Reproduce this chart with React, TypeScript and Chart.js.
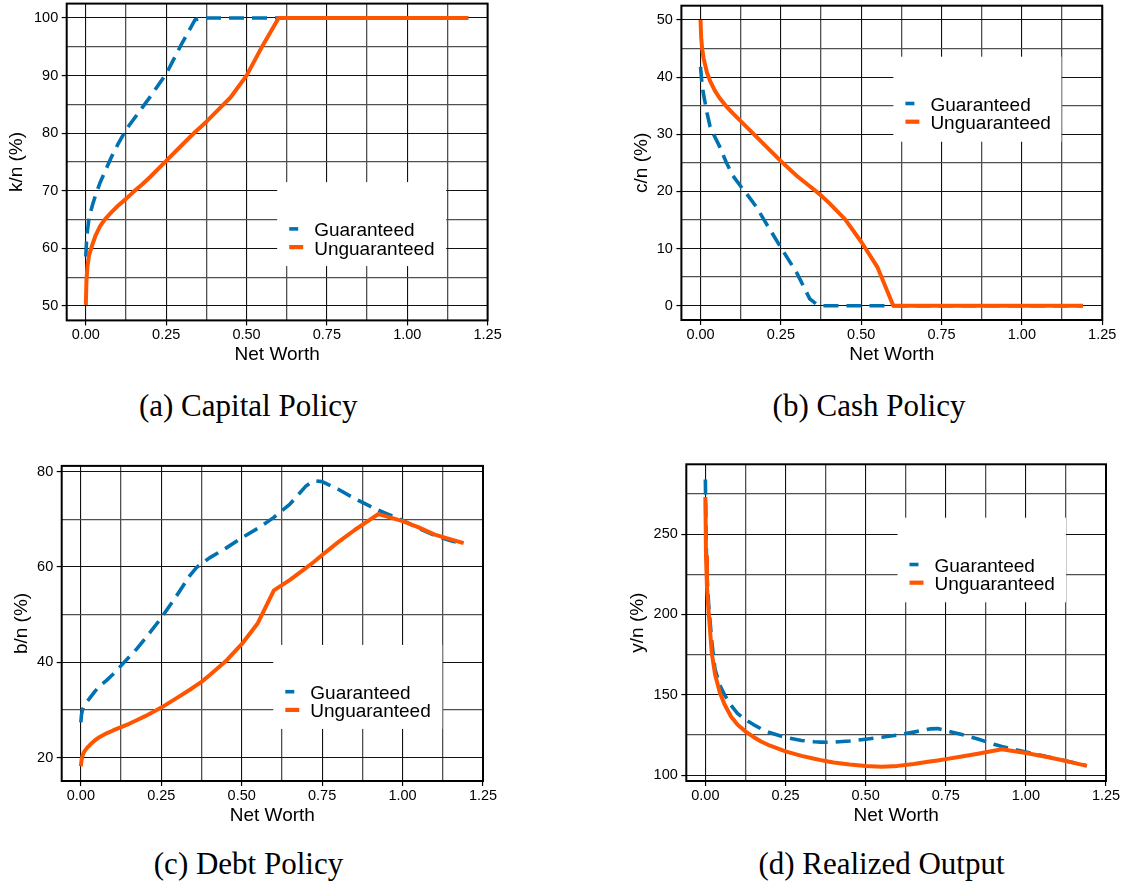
import React, { useEffect, useRef } from 'react';
import { Chart, registerables } from 'chart.js';

Chart.register(...registerables);

// ---------------- data ----------------
const netWorth = [0, 0.002, 0.005, 0.01, 0.02, 0.03, 0.045, 0.06, 0.08, 0.1, 0.125, 0.15, 0.175, 0.2, 0.25, 0.3, 0.34, 0.36, 0.375, 0.4, 0.45, 0.5, 0.55, 0.6, 0.65, 0.7, 0.725, 0.75, 0.8, 0.85, 0.9, 0.925, 0.95, 1.0, 1.05, 1.1, 1.15, 1.19];

const capitalGuaranteed = [58.6, 61.0, 63.0, 65.3, 67.4, 69.2, 71.5, 73.4, 75.9, 78.1, 80.6, 82.5, 84.4, 86.3, 90.3, 95.7, 99.7, 100, 100, 100, 100, 100, 100, 100, 100, 100, 100, 100, 100, 100, 100, 100, 100, 100, 100, 100, 100, 100];
const capitalUnguaranteed = [50.2, 54.5, 56.8, 58.8, 60.6, 62.2, 63.9, 65.1, 66.3, 67.4, 68.6, 69.9, 71.1, 72.4, 75.2, 78.0, 80.2, 81.2, 82.0, 83.4, 86.2, 90.0, 95.2, 100, 100, 100, 100, 100, 100, 100, 100, 100, 100, 100, 100, 100, 100, 100];

const cashGuaranteed = [41.8, 40.5, 38.5, 36.8, 33.8, 31.3, 29.5, 27.8, 25.1, 22.8, 20.9, 19.1, 17.2, 14.8, 10.2, 5.7, 1.2, 0.3, 0, 0, 0, 0, 0, 0, 0, 0, 0, 0, 0, 0, 0, 0, 0, 0, 0, 0, 0, 0];
const cashUnguaranteed = [50, 47, 45, 43.2, 40.8, 39.3, 37.6, 36.3, 34.9, 33.7, 32.3, 30.9, 29.5, 28.1, 25.3, 22.7, 20.9, 20.0, 19.3, 18.0, 15.1, 11.2, 6.8, 0, 0, 0, 0, 0, 0, 0, 0, 0, 0, 0, 0, 0, 0, 0];

const debtGuaranteed = [27.4, 29.0, 30.0, 30.8, 31.8, 32.7, 34.0, 35.1, 36.2, 37.5, 39.3, 41.1, 42.9, 45.0, 49.3, 54.2, 58.3, 59.9, 60.7, 61.9, 63.9, 66.1, 68.1, 70.4, 73.2, 77.0, 78.1, 77.9, 76.3, 74.4, 72.7, 71.9, 71.2, 69.8, 68.1, 66.6, 65.5, 64.8];
const debtUnguaranteed = [18.2, 19.4, 20.4, 21.2, 22.1, 22.8, 23.7, 24.4, 25.1, 25.7, 26.4, 27.1, 27.9, 28.7, 30.5, 32.6, 34.3, 35.2, 35.9, 37.3, 40.2, 43.8, 48.2, 55.1, 57.3, 59.8, 61.1, 62.5, 65.2, 67.7, 70.0, 71.1, 70.6, 69.6, 68.3, 66.8, 65.8, 65.0];

const outputGuaranteed = [284, 250, 225, 207, 183, 166, 156, 150, 143.5, 138.5, 134.5, 131.5, 128.8, 126.6, 123.5, 121.6, 120.8, 120.6, 120.5, 120.6, 121.3, 122.4, 123.6, 125.0, 126.8, 128.8, 129.0, 127.8, 125.3, 122.5, 119.3, 117.8, 116.6, 114.5, 112.3, 110.0, 107.8, 105.9];
const outputUnguaranteed = [273, 236, 217, 202, 176, 163, 151.5, 144, 136.5, 131.5, 127.2, 123.8, 120.8, 118.5, 114.8, 112.0, 110.2, 109.4, 108.8, 107.9, 106.6, 105.7, 105.3, 105.8, 107.0, 108.5, 109.2, 110.0, 111.6, 113.3, 115.2, 116.2, 115.4, 113.8, 112.0, 109.9, 107.7, 105.8];

const xMajorTicks = [0, 0.25, 0.5, 0.75, 1.0, 1.25];
const xMinorTicks = [0.125, 0.375, 0.625, 0.875, 1.125];
const capitalMajorTicks = [50, 60, 70, 80, 90, 100];
const capitalMinorTicks = [55, 65, 75, 85, 95];
const cashMajorTicks = [0, 10, 20, 30, 40, 50];
const cashMinorTicks = [5, 15, 25, 35, 45];
const debtMajorTicks = [20, 40, 60, 80];
const debtMinorTicks = [30, 50, 70];
const outputMajorTicks = [100, 150, 200, 250];
const outputMinorTicks = [125, 175, 225, 275];

const seriesLabels = ['Guaranteed', 'Unguaranteed'];
const xTitle = 'Net Worth';

// ---------------- styles ----------------
const BLUE = '#0072B2';
const ORANGE = '#FF5500';
const SANS = '"Liberation Sans", Arial, Helvetica, sans-serif';
const SERIF = '"Liberation Serif", "Times New Roman", serif';
const TICK_SIZE = 14.5;
const TITLE_SIZE = 19;
const X_MIN = -0.0595;
const X_MAX = 1.25;

type Spec = {
  canvas: { left: number; top: number; width: number; height: number };
  area: { left: number; top: number; right: number; bottom: number };
  yTitleX: number;
  xTitleY: number;
  yTitle: string;
  yMin: number;
  yMax: number;
  yMajor: number[];
  yMinor: number[];
  guaranteed: number[];
  unguaranteed: number[];
  legend: { dx: number; dy: number; w: number; h: number };
  caption: string;
  captionX: number;
  captionBaseline: number;
};

const panels: Spec[] = [
  {
    canvas: { left: 0, top: 0, width: 530, height: 380 },
    area: { left: 66.7, top: 3.6, right: 487.6, bottom: 320.4 },
    yTitleX: 17, xTitleY: 355,
    yTitle: 'k/n (%)', yMin: 47.5, yMax: 102.5,
    yMajor: capitalMajorTicks, yMinor: capitalMinorTicks,
    guaranteed: capitalGuaranteed, unguaranteed: capitalUnguaranteed,
    legend: { dx: 210.5, dy: 178.5, w: 169, h: 84 },
    caption: '(a) Capital Policy', captionX: 248.3, captionBaseline: 416.5,
  },
  {
    canvas: { left: 600, top: 0, width: 523, height: 380 },
    area: { left: 681.4, top: 5.7, right: 1102.2, bottom: 320 },
    yTitleX: 642, xTitleY: 355,
    yTitle: 'c/n (%)', yMin: -2.5, yMax: 52.5,
    yMajor: cashMajorTicks, yMinor: cashMinorTicks,
    guaranteed: cashGuaranteed, unguaranteed: cashUnguaranteed,
    legend: { dx: 212, dy: 51, w: 168, h: 85 },
    caption: '(b) Cash Policy', captionX: 869, captionBaseline: 416.5,
  },
  {
    canvas: { left: 0, top: 440, width: 530, height: 400 },
    area: { left: 61.7, top: 465.9, right: 483, bottom: 781 },
    yTitleX: 21.7, xTitleY: 815.6,
    yTitle: 'b/n (%)', yMin: 15.1, yMax: 81.2,
    yMajor: debtMajorTicks, yMinor: debtMinorTicks,
    guaranteed: debtGuaranteed, unguaranteed: debtUnguaranteed,
    legend: { dx: 211.6, dy: 179, w: 169, h: 84 },
    caption: '(c) Debt Policy', captionX: 248.5, captionBaseline: 874.5,
  },
  {
    canvas: { left: 600, top: 440, width: 523, height: 400 },
    area: { left: 686.3, top: 464.3, right: 1106, bottom: 781 },
    yTitleX: 638, xTitleY: 815.6,
    yTitle: 'y/n (%)', yMin: 96.4, yMax: 293.4,
    yMajor: outputMajorTicks, yMinor: outputMinorTicks,
    guaranteed: outputGuaranteed, unguaranteed: outputUnguaranteed,
    legend: { dx: 211.2, dy: 53.4, w: 168.5, h: 84.6 },
    caption: '(d) Realized Output', captionX: 881.5, captionBaseline: 874.5,
  },
];

const near = (list: number[], v: number) => list.some((t) => Math.abs(t - v) < 1e-9);

function makeFramePlugin(spec: Spec) {
  return {
    id: 'frameLegend',
    afterDraw(chart: any) {
      const { ctx, chartArea } = chart;
      const bx = chartArea.left + spec.legend.dx;
      const by = chartArea.top + spec.legend.dy;
      ctx.save();
      ctx.fillStyle = '#ffffff';
      ctx.fillRect(bx, by, spec.legend.w, spec.legend.h);
      const items = [
        { label: seriesLabels[0], color: BLUE, width: 3.6, len: 9 },
        { label: seriesLabels[1], color: ORANGE, width: 4.2, len: 14 },
      ];
      items.forEach((it, i) => {
        const base = by + 54.3 + i * 18.2;
        ctx.strokeStyle = it.color;
        ctx.lineWidth = it.width;
        ctx.lineCap = 'butt';
        ctx.beginPath();
        ctx.moveTo(bx + 12, base - 7.5);
        ctx.lineTo(bx + 12 + it.len, base - 7.5);
        ctx.stroke();
        ctx.fillStyle = '#000';
        ctx.font = `${TITLE_SIZE}px ${SANS}`;
        ctx.textBaseline = 'alphabetic';
        ctx.textAlign = 'left';
        ctx.fillText(it.label, bx + 37, base);
      });
      ctx.strokeStyle = '#000';
      ctx.lineWidth = 2;
      ctx.strokeRect(chartArea.left, chartArea.top, chartArea.right - chartArea.left, chartArea.bottom - chartArea.top);
      ctx.restore();
    },
  };
}

function Panel({ spec }: { spec: Spec }) {
  const ref = useRef<HTMLCanvasElement>(null);
  useEffect(() => {
    if (!ref.current) return;
    const c = spec.canvas;
    const a = spec.area;
    const half = (TITLE_SIZE * 1.2) / 2;
    const padLeft = spec.yTitleX - c.left - half;
    const yWidth = a.left - c.left - padLeft;
    const padTop = a.top - c.top;
    const padRight = c.left + c.width - a.right;
    const xHeight = spec.xTitleY + half - a.bottom;
    const padBottom = c.top + c.height - (spec.xTitleY + half);

    const xAll = [...xMajorTicks, ...xMinorTicks].sort((p, q) => p - q);
    const yAll = [...spec.yMajor, ...spec.yMinor].sort((p, q) => p - q);

    const gridFor = (major: number[]) => ({
      color: (ctx: any) => (ctx.tick && near(major, ctx.tick.value) ? '#111111' : '#505050'),
      lineWidth: (ctx: any) => (ctx.tick && near(major, ctx.tick.value) ? 1.1 : 1.3),
      tickLength: 5,
      tickWidth: 1.2,
      tickColor: (ctx: any) => (ctx.tick && near(major, ctx.tick.value) ? '#000' : 'rgba(0,0,0,0)'),
      drawTicks: true,
      drawOnChartArea: true,
    });

    const chart = new Chart(ref.current, {
      type: 'line',
      data: {
        datasets: [
          {
            label: seriesLabels[1],
            data: netWorth.map((x, i) => ({ x, y: spec.unguaranteed[i] })),
            borderColor: ORANGE,
            backgroundColor: ORANGE,
            borderWidth: 4,
            pointRadius: 0,
            tension: 0,
            fill: false,
            order: 1,
            borderJoinStyle: 'round',
          },
          {
            label: seriesLabels[0],
            data: netWorth.map((x, i) => ({ x, y: spec.guaranteed[i] })),
            borderColor: BLUE,
            backgroundColor: BLUE,
            borderWidth: 3.6,
            borderDash: [15, 8],
            pointRadius: 0,
            tension: 0,
            fill: false,
            order: 2,
            borderJoinStyle: 'round',
          },
        ],
      },
      options: {
        responsive: false,
        animation: false,
        devicePixelRatio: 1,
        events: [],
        layout: { padding: { left: padLeft, top: padTop, right: padRight, bottom: padBottom } },
        plugins: { legend: { display: false }, tooltip: { enabled: false } },
        scales: {
          x: {
            type: 'linear',
            min: X_MIN,
            max: X_MAX,
            afterBuildTicks: (s: any) => {
              s.ticks = xAll.map((v) => ({ value: v }));
            },
            afterFit: (s: any) => {
              s.height = xHeight;
              s.paddingLeft = 0;
              s.paddingRight = 0;
            },
            ticks: {
              autoSkip: false,
              maxRotation: 0,
              minRotation: 0,
              padding: 1,
              color: '#000',
              font: { family: SANS, size: TICK_SIZE },
              callback: (v: any) => (near(xMajorTicks, Number(v)) ? Number(v).toFixed(2) : ''),
            },
            grid: gridFor(xMajorTicks),
            border: { display: false },
            title: {
              display: true,
              text: xTitle,
              color: '#000',
              padding: 0,
              font: { family: SANS, size: TITLE_SIZE },
            },
          },
          y: {
            type: 'linear',
            min: spec.yMin,
            max: spec.yMax,
            afterBuildTicks: (s: any) => {
              s.ticks = yAll.map((v) => ({ value: v }));
            },
            afterFit: (s: any) => {
              s.width = yWidth;
              s.paddingTop = 0;
              s.paddingBottom = 0;
            },
            ticks: {
              autoSkip: false,
              padding: 3.5,
              color: '#000',
              font: { family: SANS, size: TICK_SIZE },
              callback: (v: any) => (near(spec.yMajor, Number(v)) ? String(Math.round(Number(v))) : ''),
            },
            grid: gridFor(spec.yMajor),
            border: { display: false },
            title: {
              display: true,
              text: spec.yTitle,
              color: '#000',
              padding: 0,
              font: { family: SANS, size: TITLE_SIZE },
            },
          },
        },
      } as any,
      plugins: [makeFramePlugin(spec)],
    });
    return () => chart.destroy();
  }, [spec]);

  return (
    <canvas
      ref={ref}
      width={spec.canvas.width}
      height={spec.canvas.height}
      style={{
        position: 'absolute',
        left: spec.canvas.left,
        top: spec.canvas.top,
        width: spec.canvas.width,
        height: spec.canvas.height,
      }}
    />
  );
}

export default function App() {
  return (
    <div
      style={{
        position: 'absolute',
        left: 0,
        top: 0,
        width: 1123,
        height: 886,
        background: '#fff',
        overflow: 'hidden',
      }}
    >
      {panels.map((p, i) => (
        <Panel key={i} spec={p} />
      ))}
      {panels.map((p, i) => (
        <div
          key={'cap' + i}
          style={{
            position: 'absolute',
            left: p.captionX - 200,
            width: 400,
            top: p.captionBaseline - 30.5,
            height: 40,
            lineHeight: '40px',
            textAlign: 'center',
            fontFamily: SERIF,
            fontSize: 31,
            color: '#000',
            whiteSpace: 'nowrap',
          }}
        >
          {p.caption}
        </div>
      ))}
    </div>
  );
}
